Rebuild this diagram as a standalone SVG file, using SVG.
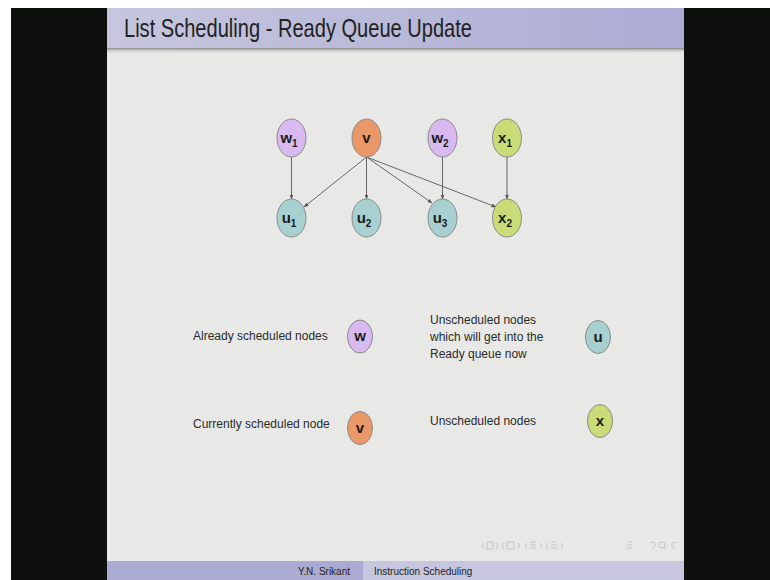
<svg xmlns="http://www.w3.org/2000/svg" width="770" height="580" viewBox="0 0 770 580">
  <defs>
    <linearGradient id="titleGrad" x1="0" y1="0" x2="1" y2="0">
      <stop offset="0" stop-color="#c6c6de"/>
      <stop offset="1" stop-color="#acacd4"/>
    </linearGradient>
    <linearGradient id="titleShadow" x1="0" y1="0" x2="0" y2="1">
      <stop offset="0" stop-color="#8a8a8c"/>
      <stop offset="1" stop-color="#e8e9e6" stop-opacity="0"/>
    </linearGradient>
    <marker id="arrow" viewBox="0 0 10 10" refX="9" refY="5" markerWidth="5" markerHeight="5" orient="auto">
      <path d="M0,1 L10,5 L0,9 z" fill="#555"/>
    </marker>
  </defs>
  <style>
    .node { stroke: #8a8a8a; stroke-width: 1; }
    .w { fill: #d8baf0; }
    .v { fill: #ea9868; }
    .u { fill: #a9d0d0; }
    .x { fill: #c9dc78; }
    .lbl { font-family: "Liberation Sans", Arial, sans-serif; font-weight: bold; font-size: 15px; fill: #1a1a1a; text-anchor: middle; }
    .sub { font-size: 10px; }
    .txt { font-family: "Liberation Sans", Arial, sans-serif; font-size: 12px; fill: #2a2a2a; }
    .edge { stroke: #666; stroke-width: 1; fill: none; marker-end: url(#arrow); }
    .nav { fill: none; stroke: #c4c4cc; stroke-width: 1; }
  </style>

  <!-- page frame -->
  <rect x="0" y="0" width="770" height="580" fill="#ffffff"/>
  <rect x="11" y="8" width="759" height="572" fill="#0e100e"/>
  <rect x="107" y="8" width="577" height="572" fill="#e8e9e6"/>

  <!-- title bar -->
  <rect x="107" y="8" width="577" height="41" fill="url(#titleGrad)"/>
  <rect x="107" y="48" width="577" height="6" fill="url(#titleShadow)"/>
  <text x="124" y="37" font-family="Liberation Sans, Arial, sans-serif" font-size="25" fill="#222" textLength="348" lengthAdjust="spacingAndGlyphs">List Scheduling - Ready Queue Update</text>

  <!-- connectors -->
  <g id="edges">
    <line class="edge" x1="291.5" y1="157" x2="291.5" y2="199"/>
    <line class="edge" x1="366.5" y1="157" x2="304" y2="207"/>
    <line class="edge" x1="366.5" y1="157" x2="366.5" y2="199"/>
    <line class="edge" x1="366.5" y1="157" x2="432" y2="203"/>
    <line class="edge" x1="366.5" y1="157" x2="496" y2="207"/>
    <line class="edge" x1="442.5" y1="157" x2="442.5" y2="199"/>
    <line class="edge" x1="507" y1="157" x2="507" y2="199"/>
  </g>

  <!-- graph nodes -->
  <g id="w1"><ellipse class="node w" cx="291.5" cy="138" rx="14.5" ry="19"/><text class="lbl" x="289" y="143">w<tspan class="sub" dy="4">1</tspan></text></g>
  <g id="v"><ellipse class="node v" cx="366.5" cy="138" rx="14.5" ry="19"/><text class="lbl" x="366.5" y="143">v</text></g>
  <g id="w2"><ellipse class="node w" cx="442.5" cy="138" rx="14.5" ry="19"/><text class="lbl" x="440" y="143">w<tspan class="sub" dy="4">2</tspan></text></g>
  <g id="x1"><ellipse class="node x" cx="507" cy="138" rx="14.5" ry="19"/><text class="lbl" x="505" y="143">x<tspan class="sub" dy="4">1</tspan></text></g>
  <g id="u1"><ellipse class="node u" cx="291.5" cy="218" rx="14.5" ry="19"/><text class="lbl" x="289" y="223">u<tspan class="sub" dy="4">1</tspan></text></g>
  <g id="u2"><ellipse class="node u" cx="366.5" cy="218" rx="14.5" ry="19"/><text class="lbl" x="364" y="223">u<tspan class="sub" dy="4">2</tspan></text></g>
  <g id="u3"><ellipse class="node u" cx="442.5" cy="218" rx="14.5" ry="19"/><text class="lbl" x="440" y="223">u<tspan class="sub" dy="4">3</tspan></text></g>
  <g id="x2"><ellipse class="node x" cx="507" cy="218" rx="14.5" ry="19"/><text class="lbl" x="505" y="223">x<tspan class="sub" dy="4">2</tspan></text></g>

  <!-- legend -->
  <g id="legend-w">
    <text class="txt" x="193" y="340">Already scheduled nodes</text>
    <ellipse class="node w" cx="360" cy="336.5" rx="12.5" ry="16.5"/>
    <text class="lbl" x="360" y="341" font-size="13">w</text>
  </g>
  <g id="legend-v">
    <text class="txt" x="193" y="428">Currently scheduled node</text>
    <ellipse class="node v" cx="360" cy="428" rx="12.5" ry="16.5"/>
    <text class="lbl" x="360" y="433" font-size="13">v</text>
  </g>
  <g id="legend-u">
    <text class="txt" x="430" y="324">Unscheduled nodes</text>
    <text class="txt" x="430" y="341">which will get into the</text>
    <text class="txt" x="430" y="358">Ready queue now</text>
    <ellipse class="node u" cx="598" cy="337" rx="12.5" ry="16.5"/>
    <text class="lbl" x="598" y="342" font-size="13">u</text>
  </g>
  <g id="legend-x">
    <text class="txt" x="430" y="425">Unscheduled nodes</text>
    <ellipse class="node x" cx="600" cy="421" rx="12.5" ry="16.5"/>
    <text class="lbl" x="600" y="426" font-size="13">x</text>
  </g>

  <!-- navigation controls -->
  <g id="nav">
    <path class="nav" d="M484,543 L482,546 L484,549"/>
    <rect class="nav" x="487" y="542" width="6" height="7"/>
    <path class="nav" d="M496,543 L498,546 L496,549"/>
    <path class="nav" d="M504,543 L502,546 L504,549"/>
    <rect class="nav" x="507" y="542" width="7" height="7"/>
    <path class="nav" d="M518,543 L520,546 L518,549"/>
    <path class="nav" d="M527,543 L525,546 L527,549"/>
    <path class="nav" d="M530,542 h6 M530,545 h6 M530,548 h6"/>
    <path class="nav" d="M540,543 L542,546 L540,549"/>
    <path class="nav" d="M548,543 L546,546 L548,549"/>
    <path class="nav" d="M551,542 h6 M551,545 h6 M551,548 h6"/>
    <path class="nav" d="M561,543 L563,546 L561,549"/>
    <path class="nav" d="M627,542 h5 M627,545 h5 M627,548 h5"/>
    <path class="nav" d="M652,548 a3,3 0 1,0 -2,-5"/>
    <circle class="nav" cx="662" cy="545" r="3"/>
    <path class="nav" d="M664,547 l2,2"/>
    <path class="nav" d="M675,548 a3,3 0 1,1 2,-5"/>
  </g>

  <!-- footer bar -->
  <rect x="107" y="561" width="256" height="19" fill="#aaaad2"/>
  <rect x="363" y="561" width="321" height="19" fill="#c6c6de"/>
  <text x="350" y="575" font-family="Liberation Sans, Arial, sans-serif" font-size="10" fill="#222" text-anchor="end">Y.N. Srikant</text>
  <text x="374" y="575" font-family="Liberation Sans, Arial, sans-serif" font-size="10" fill="#222">Instruction Scheduling</text>
</svg>
